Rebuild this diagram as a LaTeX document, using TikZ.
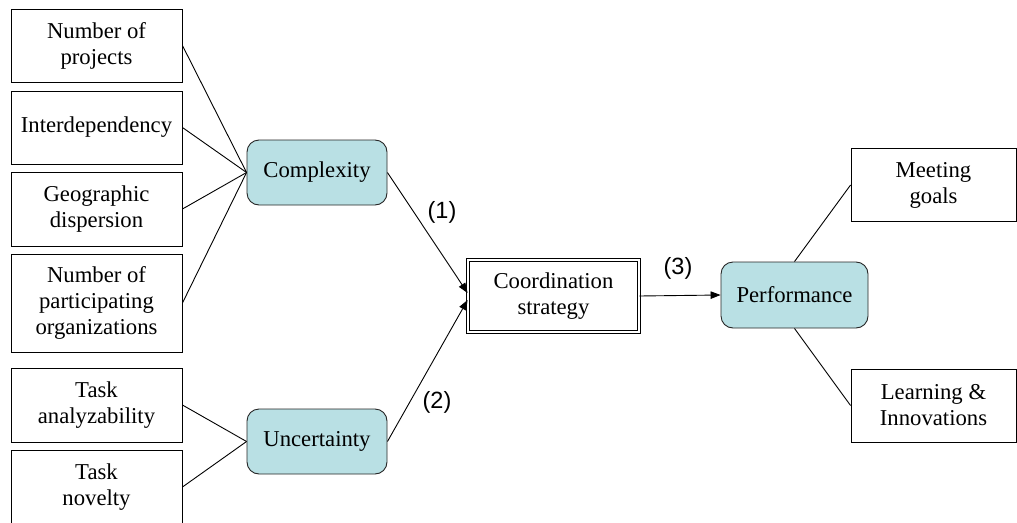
\documentclass[tikz,border=0pt]{standalone}
\usepackage{fontspec}
\setmainfont{Liberation Serif}
\newfontfamily\labelfont{Liberation Sans}
\usetikzlibrary{arrows.meta}
\definecolor{factorfill}{RGB}{185,224,228}
\begin{document}
\begin{tikzpicture}[x=1pt, y=-1pt,
  txt/.style={font=\fontsize{22.7}{26}\selectfont, align=center},
  itembox/.style={txt, draw, line width=0.9pt, fill=white, minimum width=171pt, inner sep=0pt},
  outbox/.style={itembox, minimum width=165pt, minimum height=73pt},
  factor/.style={txt, draw=black!85, line width=0.9pt, fill=factorfill, rounded corners=12pt,
                 minimum width=140pt, minimum height=65pt, inner sep=0pt},
  link/.style={line width=0.9pt},
  arrowlink/.style={link, -{Triangle[length=10pt, width=7.5pt]}},
  pathlabel/.style={font=\labelfont\fontsize{23.5}{26}\selectfont}]
  \useasboundingbox (0,0) rectangle (1017,522);

  % drivers of complexity
  \node[itembox, minimum height=73pt] (nproj) at (96.5,45.5) {Number of\\projects};
  \node[itembox, minimum height=73pt] (interdep) at (96.5,127.5) {Interdependency};
  \node[itembox, minimum height=74pt] (geo) at (96.5,209) {Geographic\\dispersion};
  \node[itembox, minimum height=98pt] (norg) at (96.5,303) {Number of\\participating\\organizations};

  % drivers of uncertainty
  \node[itembox, minimum height=74pt] (analyz) at (96.5,405) {Task\\analyzability};
  \node[itembox, minimum height=74pt] (novel) at (96.5,487) {Task\\novelty};

  % central constructs
  \node[factor] (complex) at (317,172.5) {Complexity};
  \node[factor] (uncert) at (317,441.5) {Uncertainty};
  \node[txt, draw, line width=0.8pt, double, double distance=2pt, fill=white,
        minimum width=171pt, minimum height=72pt, inner sep=0pt] (coord) at (553.5,296)
        {Coordination\\strategy};
  \node[factor, minimum width=147pt, minimum height=66pt] (perf) at (794.5,295) {Performance};

  % outcomes
  \node[outbox] (goals) at (933.5,185) {Meeting\\goals};
  \node[outbox] (learn) at (933.5,405.5) {Learning \&\\Innovations};

  % links to the factors
  \foreach \n in {nproj, interdep, geo, norg} \draw[link] (\n.east) -- (complex.west);
  \foreach \n in {analyz, novel} \draw[link] (\n.east) -- (uncert.west);
  \draw[link] (perf.north) -- (goals.west);
  \draw[link] (perf.south) -- (learn.west);

  % hypothesised paths
  \draw[arrowlink] (complex.east) -- ([yshift=3pt]coord.west);
  \draw[arrowlink] (uncert.east) -- ([yshift=-4pt]coord.west);
  \draw[arrowlink] (coord.east) -- (perf.west);

  \node[pathlabel] (p1) at (442,212) {(1)};
  \node[pathlabel] (p2) at (437,402) {(2)};
  \node[pathlabel] (p3) at (678,268) {(3)};
\end{tikzpicture}
\end{document}
